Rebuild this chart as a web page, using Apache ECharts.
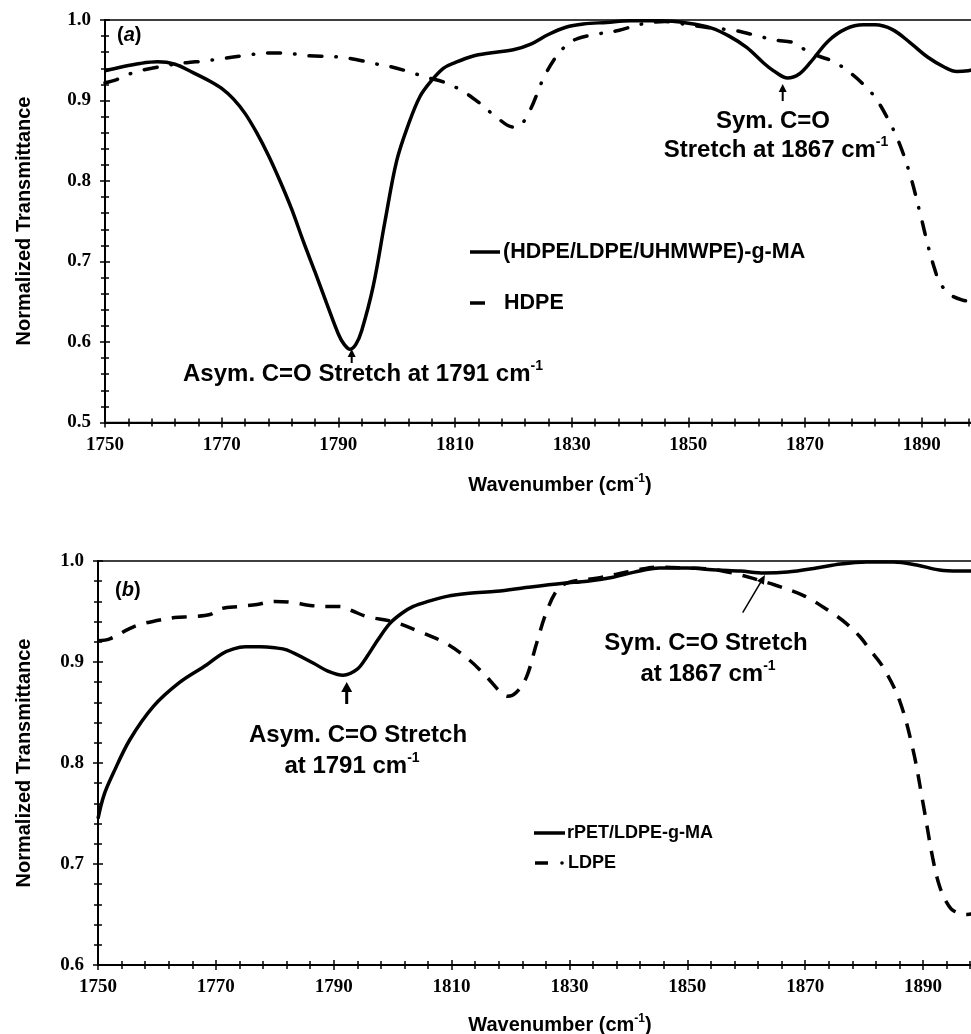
<!DOCTYPE html>
<html><head><meta charset="utf-8">
<script src="https://cdn.jsdelivr.net/npm/echarts@6.0.0/dist/echarts.min.js"></script>
<style>
html,body{margin:0;padding:0;overflow:hidden;background:#fff}
#wrap{width:971px;height:1034px;overflow:hidden;position:relative}
#chart{width:1000px;height:1034px}
</style></head>
<body><div id="wrap"><div id="chart"></div></div>
<script>
// ---------- Data ----------
// Panel (a): (HDPE/LDPE/UHMWPE)-g-MA  (solid)
const wnA_MA = [1750,1753,1756,1759,1762,1765,1768,1770,1772,1774,1776,1778,1780,1782,1784,1786,1788,1790,1791,1792,1793,1794,1796,1798,1800,1802,1804,1806,1808,1810,1813,1816,1820,1823,1826,1829,1832,1836,1840,1845,1850,1854,1857,1860,1863,1865,1867,1869,1871,1874,1877,1880,1882,1885,1888,1891,1894,1896,1898,1900];
const tA_MA  = [0.937,0.942,0.946,0.948,0.945,0.935,0.924,0.915,0.902,0.884,0.860,0.832,0.800,0.765,0.725,0.687,0.648,0.610,0.597,0.591,0.597,0.614,0.670,0.750,0.825,0.870,0.905,0.925,0.940,0.947,0.955,0.959,0.963,0.970,0.982,0.991,0.995,0.997,0.999,0.999,0.996,0.990,0.980,0.966,0.946,0.935,0.928,0.933,0.948,0.974,0.989,0.994,0.994,0.988,0.972,0.954,0.941,0.936,0.937,0.940];
// Panel (a): HDPE (dash-dot)
const wnA_HDPE = [1750,1752,1755,1758,1761,1764,1767,1770,1774,1778,1781,1784,1787,1790,1793,1796,1799,1802,1805,1808,1811,1814,1817,1820,1821,1823,1825,1827,1829,1831,1834,1838,1842,1846,1850,1854,1858,1862,1865,1868,1870,1872,1875,1878,1880,1882,1884,1886,1888,1890,1891,1892,1893,1894,1895,1897,1898,1900];
const tA_HDPE  = [0.922,0.926,0.935,0.940,0.944,0.947,0.949,0.952,0.956,0.959,0.959,0.956,0.955,0.954,0.951,0.946,0.942,0.936,0.929,0.923,0.913,0.898,0.880,0.867,0.868,0.890,0.925,0.951,0.968,0.977,0.982,0.987,0.995,0.998,0.994,0.990,0.987,0.980,0.975,0.972,0.963,0.956,0.948,0.933,0.920,0.904,0.880,0.850,0.808,0.752,0.722,0.696,0.675,0.665,0.658,0.652,0.651,0.652];
// Panel (b): rPET/LDPE-g-MA (solid)
const wnB_MA = [1750,1751,1752.6,1755.4,1759.4,1763.9,1768.4,1771,1773,1775,1777.5,1780,1782,1786.5,1789,1791.6,1794,1795.6,1797.5,1799.5,1801.5,1803.5,1806,1809.2,1813,1817.6,1823,1829,1833,1837.4,1841,1845.3,1850,1855,1859,1863,1867,1871.9,1876,1880.4,1885,1888.9,1892.8,1896,1900];
const tB_MA  = [0.745,0.768,0.790,0.823,0.856,0.880,0.897,0.908,0.913,0.915,0.915,0.914,0.912,0.899,0.891,0.887,0.893,0.905,0.922,0.938,0.948,0.955,0.960,0.965,0.968,0.970,0.974,0.978,0.980,0.984,0.989,0.993,0.993,0.991,0.990,0.988,0.989,0.993,0.997,0.999,0.999,0.996,0.991,0.990,0.990];
// Panel (b): LDPE (dashed)
const wnB_LDPE = [1750,1752,1755,1757,1760,1763,1766,1769,1771,1774,1777,1780,1783,1786,1789,1791,1793,1795.6,1800,1804.6,1809.2,1813,1816,1818,1819.5,1821,1822.7,1824.4,1826,1828,1830,1834.6,1838,1841.4,1845,1850,1854,1857.8,1861,1865,1870,1874.7,1877,1879.3,1881,1883.2,1886,1888.3,1890,1891.7,1892.8,1894,1895.1,1897.4,1898.5,1900];
const tB_LDPE  = [0.921,0.923,0.932,0.937,0.941,0.944,0.945,0.947,0.953,0.955,0.957,0.960,0.959,0.956,0.955,0.955,0.951,0.945,0.940,0.930,0.918,0.902,0.885,0.872,0.866,0.870,0.885,0.918,0.948,0.972,0.979,0.983,0.987,0.991,0.994,0.993,0.992,0.988,0.983,0.976,0.965,0.948,0.938,0.925,0.912,0.895,0.862,0.813,0.760,0.704,0.678,0.662,0.654,0.650,0.651,0.654];

const xTickLabels = ['1750','1770','1790','1810','1830','1850','1870','1890'];
const seriesNames = ['(HDPE/LDPE/UHMWPE)-g-MA','HDPE','rPET/LDPE-g-MA','LDPE'];

// ---------- Styling ----------
const SANS = '"Liberation Sans", Arial, sans-serif';
const SERIF = '"Liberation Serif", "Times New Roman", serif';
const pairs = (xs, ys) => xs.map((x, i) => [x, ys[i]]);

const tickStyle = {color:'#000', width:1.5};
function xMain(gi){
  return {type:'value', gridIndex:gi, min:1750, max:1900, interval:20,
    axisLine:{show:true, onZero:false, lineStyle:{color:'#000', width:2}},
    axisTick:{show:true, length:5, lineStyle:tickStyle},
    minorTick:{show:true, splitNumber:5, length:4, lineStyle:tickStyle},
    splitLine:{show:false}, minorSplitLine:{show:false},
    axisLabel:{margin:13, color:'#000', fontFamily:SERIF, fontWeight:'bold', fontSize:19,
      formatter: v => xTickLabels.indexOf(String(Math.round(v))) >= 0 ? String(Math.round(v)) : ''}};
}
function xOver(gi){
  return {type:'value', gridIndex:gi, min:1750, max:1900, interval:20,
    axisLine:{show:false, onZero:false},
    axisTick:{show:true, inside:true, length:5, lineStyle:tickStyle},
    minorTick:{show:true, splitNumber:5, length:4, lineStyle:tickStyle},
    splitLine:{show:false}, axisLabel:{show:false}};
}
function yMain(gi, min){
  return {type:'value', gridIndex:gi, min:min, max:1.0, interval:0.1,
    axisLine:{show:true, onZero:false, lineStyle:{color:'#000', width:2}},
    axisTick:{show:true, length:5, lineStyle:tickStyle},
    minorTick:{show:true, splitNumber:5, length:4, lineStyle:tickStyle},
    splitLine:{show:false},
    axisLabel:{margin:14, color:'#000', fontFamily:SERIF, fontWeight:'bold', fontSize:19,
      formatter: v => v.toFixed(1)}};
}
function yOver(gi, min){
  return {type:'value', gridIndex:gi, min:min, max:1.0, interval:0.1,
    axisLine:{show:false, onZero:false},
    axisTick:{show:true, inside:true, length:5, lineStyle:tickStyle},
    minorTick:{show:true, splitNumber:5, length:4, lineStyle:tickStyle},
    splitLine:{show:false}, axisLabel:{show:false}};
}

const gridA = {left:105, top:20, width:875, height:402.5, show:true, borderColor:'#000', borderWidth:1.5, backgroundColor:'transparent'};
const gridB = {left:98, top:561, width:884, height:404, show:true, borderColor:'#000', borderWidth:1.5, backgroundColor:'transparent'};

function arrow(x1,y1,x2,y2,hw,hl,lw){
  const dx=x2-x1, dy=y2-y1, L=Math.hypot(dx,dy), ux=dx/L, uy=dy/L;
  const bx=x2-ux*hl, by=y2-uy*hl, px=-uy, py=ux;
  return [
    {type:'line', silent:true, shape:{x1:x1,y1:y1,x2:bx+ux*1,y2:by+uy*1}, style:{stroke:'#000', lineWidth:lw}},
    {type:'polygon', silent:true, shape:{points:[[x2,y2],[bx+px*hw,by+py*hw],[bx-px*hw,by-py*hw]]}, style:{fill:'#000'}}
  ];
}
function richText(x, y, parts, size, align){
  return {type:'text', silent:true, x:x, y:y,
    style:{text:parts, align:align||'center', verticalAlign:'middle',
      rich:{
        b:{fontFamily:SANS, fontWeight:'bold', fontSize:size, lineHeight:size+5, fill:'#000'},
        i:{fontFamily:SANS, fontWeight:'bold', fontStyle:'italic', fontSize:size, lineHeight:size+5, fill:'#000'},
        s:{fontFamily:SANS, fontWeight:'bold', fontSize:Math.round(size*0.6), lineHeight:Math.round(size*0.6), verticalAlign:'top', fill:'#000'}
      }}};
}
function legendLine(x1,x2,y){
  return {type:'line', silent:true, shape:{x1:x1,y1:y,x2:x2,y2:y}, style:{stroke:'#000', lineWidth:3.5}};
}

const graphics = [
  // panel labels
  richText(117, 35, '{b|(}{i|a}{b|)}', 20, 'left'),
  richText(115, 590, '{b|(}{i|b}{b|)}', 20, 'left'),
  // axis titles
  {type:'text', silent:true, x:24, y:221, rotation:Math.PI/2,
    style:{text:'Normalized Transmittance', fontFamily:SANS, fontWeight:'bold', fontSize:20, fill:'#000', align:'center', verticalAlign:'middle'}},
  {type:'text', silent:true, x:24, y:763, rotation:Math.PI/2,
    style:{text:'Normalized Transmittance', fontFamily:SANS, fontWeight:'bold', fontSize:20, fill:'#000', align:'center', verticalAlign:'middle'}},
  richText(560, 485, '{b|Wavenumber (cm}{s|-1}{b|)}', 20),
  richText(560, 1025, '{b|Wavenumber (cm}{s|-1}{b|)}', 20),
  // panel (a) annotations
  richText(363, 374, '{b|Asym. C=O Stretch at 1791 cm}{s|-1}', 24),
  richText(773, 121.5, '{b|Sym. C=O}', 24),
  richText(776, 150, '{b|Stretch at 1867 cm}{s|-1}', 24),
  ...arrow(351.7, 363, 351.7, 349, 4, 8, 2),
  ...arrow(782.7, 101, 782.7, 84, 4, 8, 2),
  // panel (a) legend
  legendLine(470, 500, 252),
  richText(503, 252, '{b|' + seriesNames[0] + '}', 21.5, 'left'),
  legendLine(470, 485, 303),
  richText(504, 303, '{b|' + seriesNames[1] + '}', 21.5, 'left'),
  // panel (b) annotations
  richText(358, 735, '{b|Asym. C=O Stretch}', 24),
  richText(352, 766, '{b|at 1791 cm}{s|-1}', 24),
  richText(706, 643, '{b|Sym. C=O Stretch}', 24),
  richText(708, 674, '{b|at 1867 cm}{s|-1}', 24),
  ...arrow(346.7, 704, 346.7, 682, 5.5, 10, 3),
  ...arrow(742.7, 612.7, 765, 575, 4, 9, 1.5),
  // panel (b) legend
  legendLine(534, 565, 833),
  richText(567, 833, '{b|' + seriesNames[2] + '}', 18, 'left'),
  legendLine(535, 548, 863),
  {type:'circle', silent:true, shape:{cx:562, cy:863, r:1.8}, style:{fill:'#000'}},
  richText(568, 863, '{b|' + seriesNames[3] + '}', 18, 'left')
];

const option = {
  animation:false,
  backgroundColor:'#fff',
  grid:[gridA, Object.assign({}, gridA, {show:false}), gridB, Object.assign({}, gridB, {show:false})],
  xAxis:[xMain(0), xOver(1), xMain(2), xOver(3)],
  yAxis:[yMain(0,0.5), yOver(1,0.5), yMain(2,0.6), yOver(3,0.6)],
  series:[
    {name:seriesNames[0], type:'line', xAxisIndex:0, yAxisIndex:0, data:pairs(wnA_MA, tA_MA),
      showSymbol:false, smooth:0.35, lineStyle:{color:'#000', width:3.5}, z:3},
    {name:seriesNames[1], type:'line', xAxisIndex:0, yAxisIndex:0, data:pairs(wnA_HDPE, tA_HDPE),
      showSymbol:false, smooth:0.35, lineStyle:{color:'#000', width:3.5, type:[13,14,0.5,14], cap:'round'}, z:2},
    {name:seriesNames[2], type:'line', xAxisIndex:2, yAxisIndex:2, data:pairs(wnB_MA, tB_MA),
      showSymbol:false, smooth:0.35, lineStyle:{color:'#000', width:3.5}, z:3},
    {name:seriesNames[3], type:'line', xAxisIndex:2, yAxisIndex:2, data:pairs(wnB_LDPE, tB_LDPE),
      showSymbol:false, smooth:0.35, lineStyle:{color:'#000', width:3.5, type:[15,11]}, z:2}
  ],
  graphic:graphics
};

const chart = echarts.init(document.getElementById('chart'), null, {renderer:'canvas'});
chart.setOption(option);
</script>
</body></html>
